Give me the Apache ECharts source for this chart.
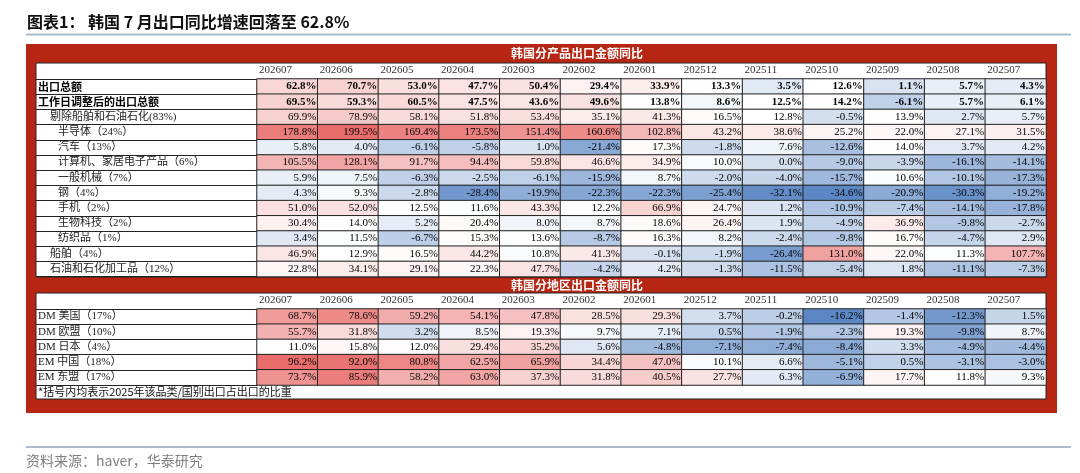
<!DOCTYPE html>
<html>
<head>
<meta charset="utf-8">
<script src="https://cdn.jsdelivr.net/npm/echarts@6/dist/echarts.min.js"></script>
<style>
html, body { margin: 0; padding: 0; background: #fff; }
#main { width: 1080px; height: 473px; }
</style>
</head>
<body>
<div id="main"></div>
<script>
// 月份（列）
var months = ['202607', '202606', '202605', '202604', '202603', '202602', '202601',
	'202512', '202511', '202510', '202509', '202508', '202507'];

// 分产品
var productRows = ['出口总额', '工作日调整后的出口总额', '剔除船舶和石油石化(83%)', '半导体（24%）',
	'汽车（13%）', '计算机、家居电子产品（6%）', '一般机械（7%）', '钢（4%）', '手机（2%）',
	'生物科技（2%）', '纺织品（1%）', '船舶（4%）', '石油和石化加工品（12%）'];
var exportTotal = [62.8, 70.7, 53.0, 47.7, 50.4, 29.4, 33.9, 13.3, 3.5, 12.6, 1.1, 5.7, 4.3];
var workdayAdj = [69.5, 59.3, 60.5, 47.5, 43.6, 49.6, 13.8, 8.6, 12.5, 14.2, -6.1, 5.7, 6.1];
var exShipPetro = [69.9, 78.9, 58.1, 51.8, 53.4, 35.1, 41.3, 16.5, 12.8, -0.5, 13.9, 2.7, 5.7];
var semis = [178.8, 199.5, 169.4, 173.5, 151.4, 160.6, 102.8, 43.2, 38.6, 25.2, 22.0, 27.1, 31.5];
var autos = [5.8, 4.0, -6.1, -5.8, 1.0, -21.4, 17.3, -1.8, 7.6, -12.6, 14.0, 3.7, 4.2];
var computers = [105.5, 128.1, 91.7, 94.4, 59.8, 46.6, 34.9, 10.0, 0.0, -9.0, -3.9, -16.1, -14.1];
var machinery = [5.9, 7.5, -6.3, -2.5, -6.1, -15.9, 8.7, -2.0, -4.0, -15.7, 10.6, -10.1, -17.3];
var steel = [4.3, 9.3, -2.8, -28.4, -19.9, -22.3, -22.3, -25.4, -32.1, -34.6, -20.9, -30.3, -19.2];
var phones = [51.0, 52.0, 12.5, 11.6, 43.3, 12.2, 66.9, 24.7, 1.2, -10.9, -7.4, -14.1, -17.8];
var biotech = [30.4, 14.0, 5.2, 20.4, 8.0, 8.7, 18.6, 26.4, 1.9, -4.9, 36.9, -9.8, -2.7];
var textiles = [3.4, 11.5, -6.7, 15.3, 13.6, -8.7, 16.3, 8.2, -2.4, -9.8, 16.7, -4.7, 2.9];
var ships = [46.9, 12.9, 16.5, 44.2, 10.8, 41.3, -0.1, -1.9, -26.4, 131.0, 22.0, 11.3, 107.7];
var petro = [22.8, 34.1, 29.1, 22.3, 47.7, -4.2, 4.2, -1.3, -11.5, -5.4, 1.8, -11.1, -7.3];
var productVals = [exportTotal, workdayAdj, exShipPetro, semis, autos, computers, machinery,
	steel, phones, biotech, textiles, ships, petro];

// 分地区
var regionRows = ['DM 美国（17%）', 'DM 欧盟（10%）', 'DM 日本（4%）', 'EM 中国（18%）', 'EM 东盟（17%）'];
var usa = [68.7, 78.6, 59.2, 54.1, 47.8, 28.5, 29.3, 3.7, -0.2, -16.2, -1.4, -12.3, 1.5];
var eu = [55.7, 31.8, 3.2, 8.5, 19.3, 9.7, 7.1, 0.5, -1.9, -2.3, 19.3, -9.8, 8.7];
var japan = [11.0, 15.8, 12.0, 29.4, 35.2, 5.6, -4.8, -7.1, -7.4, -8.4, 3.3, -4.9, -4.4];
var china = [96.2, 92.0, 80.8, 62.5, 65.9, 34.4, 47.0, 10.1, 6.6, -5.1, 0.5, -3.1, -3.0];
var asean = [73.7, 85.9, 58.2, 63.0, 37.3, 31.8, 40.5, 27.7, 6.3, -6.9, 17.7, 11.8, 9.3];
var regionVals = [usa, eu, japan, china, asean];

// 行样式：b 加粗，i1/i2 缩进
var productStyle = ['b', 'b', 'i1', 'i2', 'i2', 'i2', 'i2', 'i2', 'i2', 'i2', 'i2', 'i1', 'i1'];
var regionStyle = ['n', 'n', 'n', 'n', 'n'];

var SERIF = "'Liberation Serif', 'Noto Sans CJK SC', serif";
var CJK = "'Noto Sans CJK SC', sans-serif";
var ROW_H = 15.2;

function mix(a, b, t) {
	return [0, 1, 2].map(function(k) { return Math.round(a[k] + (b[k] - a[k]) * t); });
}
// 蓝-白-红 色阶, 白色位于 mid
function ramp(lo, mid, hi) {
	var blue = [91, 135, 196], red = [232, 108, 106], white = [255, 255, 255];
	var out = [];
	for (var k = 0; k <= 150; k++) {
		var v = lo + (hi - lo) * k / 150, c;
		if (v < mid) c = mix(white, blue, (mid - v) / (mid - lo));
		else c = mix(white, red, (v - mid) / (hi - mid));
		out.push('rgb(' + c.join(',') + ')');
	}
	return out;
}
function flat(vals) { return [].concat.apply([], vals); }

function cells(vals, styles) {
	var arr = [];
	for (var i = 0; i < vals.length; i++) {
		for (var j = 0; j < vals[i].length; j++) {
			var item = { value: [j, i, vals[i][j]] };
			if (styles[i] == 'b') item.label = { fontWeight: 'bold' };
			arr.push(item);
		}
	}
	return arr;
}

function yAxisFor(gi, rows, styles) {
	return {
		type: 'category', gridIndex: gi, data: rows, inverse: true,
		axisLine: { show: false },
		axisTick: { show: true, length: 221, lineStyle: { color: '#222', width: 1 } },
		splitLine: { show: false },
		axisLabel: {
			margin: 219, align: 'left', interval: 0,
			formatter: function(v, idx) { return '{' + styles[idx] + '|' + v + '}'; },
			rich: {
				b: { fontWeight: 'bold', fontSize: 11, fontFamily: CJK, color: '#000' },
				n: { fontSize: 11, fontFamily: SERIF, color: '#222' },
				i1: { fontSize: 11, fontFamily: SERIF, color: '#222', padding: [0, 0, 0, 12] },
				i2: { fontSize: 11, fontFamily: SERIF, color: '#222', padding: [0, 0, 0, 20] }
			}
		}
	};
}

var gridLeft = 257, gridRight = 1080 - 1046;
var topGridTop = 79, botGridTop = 309;

var chart = echarts.init(document.getElementById('main'));

var option = {
	animation: false,
	grid: [
		{ left: gridLeft, right: gridRight, top: topGridTop, height: ROW_H * productRows.length, containLabel: false, outerBoundsMode: 'none' },
		{ left: gridLeft, right: gridRight, top: botGridTop, height: ROW_H * regionRows.length, containLabel: false, outerBoundsMode: 'none' }
	],
	xAxis: [0, 1].map(function(gi) {
		return { type: 'category', gridIndex: gi, data: months, position: 'bottom',
			axisLine: { show: false }, axisTick: { show: false }, axisLabel: { show: false }, splitLine: { show: false } };
	}).concat([0, 1].map(function(gi) {
		return { type: 'category', gridIndex: gi, data: months.concat(['']), boundaryGap: false, position: 'top',
			axisLine: { show: false }, axisTick: { show: false }, splitLine: { show: false },
			axisLabel: { interval: 0, align: 'left', margin: 3, padding: [0, 0, 0, 2],
				fontSize: 11, fontFamily: SERIF, color: '#333' } };
	})),
	yAxis: [yAxisFor(0, productRows, productStyle), yAxisFor(1, regionRows, regionStyle)],
	visualMap: [
		{ type: 'continuous', show: false, seriesIndex: 0, dimension: 2,
			min: Math.min.apply(null, flat(productVals)), max: Math.max.apply(null, flat(productVals)),
			inRange: { color: ramp(Math.min.apply(null, flat(productVals)), 12, Math.max.apply(null, flat(productVals))) } },
		{ type: 'continuous', show: false, seriesIndex: 1, dimension: 2,
			min: Math.min.apply(null, flat(regionVals)), max: Math.max.apply(null, flat(regionVals)),
			inRange: { color: ramp(Math.min.apply(null, flat(regionVals)), 11, Math.max.apply(null, flat(regionVals))) } }
	],
	series: [
		{ type: 'heatmap', xAxisIndex: 0, yAxisIndex: 0, data: cells(productVals, productStyle) },
		{ type: 'heatmap', xAxisIndex: 1, yAxisIndex: 1, data: cells(regionVals, regionStyle) }
	].map(function(s) {
		s.itemStyle = { borderColor: '#222', borderWidth: 1 };
		s.emphasis = { disabled: true };
		s.label = { show: true, position: 'insideRight', distance: 2, fontSize: 11, fontFamily: SERIF, color: '#000',
			formatter: function(p) { return p.value[2].toFixed(1) + '%'; } };
		return s;
	}),
	graphic: [
		{ type: 'text', left: 27, top: 14, z: 100,
			style: { text: '图表1： 韩国 7 月出口同比增速回落至 62.8%', font: 'bold 16px ' + CJK, fill: '#111' } },
		{ type: 'line', z: 1, shape: { x1: 26, y1: 34.5, x2: 1071, y2: 34.5 }, style: { stroke: '#aabbd0', lineWidth: 2 } },
		{ type: 'rect', z: -10, shape: { x: 26, y: 44, width: 1031, height: 369 }, style: { fill: '#b72612' } },
		{ type: 'rect', z: -9, shape: { x: 36, y: 63, width: 1010, height: 214 }, style: { fill: '#fff', stroke: '#222', lineWidth: 1 } },
		{ type: 'rect', z: -9, shape: { x: 36, y: 293, width: 1010, height: 106 }, style: { fill: '#fff', stroke: '#222', lineWidth: 1 } },
		{ type: 'text', z: 100, x: 577, y: 53,
			style: { text: '韩国分产品出口金额同比', font: 'bold 12px ' + CJK, fill: '#fff', textAlign: 'center', textVerticalAlign: 'middle' } },
		{ type: 'text', z: 100, x: 577, y: 285,
			style: { text: '韩国分地区出口金额同比', font: 'bold 12px ' + CJK, fill: '#fff', textAlign: 'center', textVerticalAlign: 'middle' } },
		{ type: 'text', z: 100, x: 38, y: 392,
			style: { text: '*括号内均表示2025年该品类/国别出口占出口的比重', font: '11px ' + CJK, fill: '#111', textVerticalAlign: 'middle' } },
		{ type: 'line', z: 1, shape: { x1: 26, y1: 447, x2: 1071, y2: 447 }, style: { stroke: '#aabbd0', lineWidth: 2 } },
		{ type: 'text', z: 100, x: 26, y: 461,
			style: { text: '资料来源：haver，华泰研究', font: '14px ' + CJK, fill: '#7f7f7f', textVerticalAlign: 'middle' } }
	]
};
chart.setOption(option);
</script>
</body>
</html>
